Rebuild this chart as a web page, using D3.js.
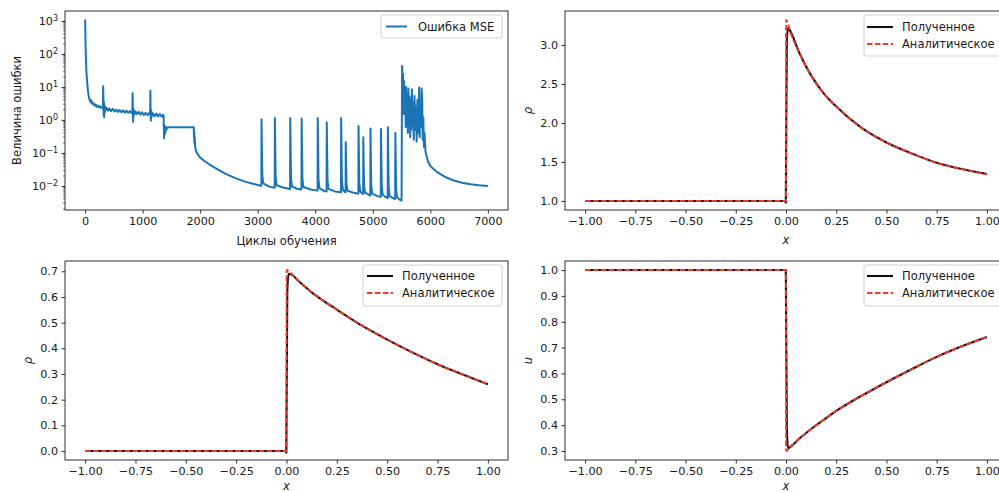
<!DOCTYPE html>
<html>
<head>
<meta charset="utf-8">
<script src="https://cdn.jsdelivr.net/npm/d3@7"></script>
<style>
  body { margin: 0; background: #fff; overflow: hidden; }
  svg { display: block; font-family: "DejaVu Sans", sans-serif; }
</style>
</head>
<body>
<svg id="chart" width="999" height="492"></svg>
<script>
// Кривая ошибки MSE (циклы обучения / величина ошибки)
const mseCycles = [
  0, 3, 6, 10, 15, 22, 30, 40, 50, 60, 75, 90, 100, 110, 125, 140, 155, 170, 185, 200, 220, 240, 260, 280, 300,
  308, 314, 318, 322, 326, 330, 336, 342, 350, 360, 375,
  400, 420, 450, 480, 510, 540, 570, 600, 630, 660, 690, 720, 750, 780, 810,
  820, 826, 830, 834, 838, 844, 852, 862, 875,
  900, 930, 960, 990, 1020, 1050, 1080, 1110, 1125,
  1130, 1134, 1138, 1142, 1146, 1152, 1160, 1170, 1185,
  1210, 1240, 1270, 1300, 1330, 1355, 1364,
  1368, 1372, 1376, 1380, 1386, 1392, 1400, 1410, 1425, 1450, 1700, 1888,
  1892, 1896, 1900, 1905, 1912, 1920, 1935, 1960, 2000, 2075, 2150, 2250, 2425, 2600, 2775, 2900, 3040,
  3063, 3066, 3072, 3080, 3096, 3200, 3295,
  3298, 3304, 3312, 3328, 3450, 3562,
  3565, 3571, 3579, 3595, 3680, 3760,
  3763, 3769, 3777, 3793, 3920, 4040,
  4043, 4049, 4057, 4073, 4150, 4197,
  4200, 4206, 4214, 4230, 4340, 4447,
  4450, 4456, 4464, 4480, 4510, 4527,
  4530, 4536, 4544, 4560, 4650, 4749,
  4752, 4758, 4766, 4782, 4810, 4832,
  4835, 4841, 4849, 4865, 4920, 4957,
  4960, 4966, 4974, 4990, 5070, 5139,
  5142, 5148, 5156, 5172, 5220, 5259,
  5262, 5268, 5276, 5292, 5350, 5389,
  5392, 5398, 5406, 5422, 5470, 5500,
  5509, 5518, 5527, 5536, 5545, 5554, 5563, 5572, 5581, 5590, 5600, 5610, 5620, 5630, 5640, 5650,
  5660, 5670, 5680, 5690, 5700, 5712, 5725, 5738, 5750, 5762, 5775, 5790, 5805, 5815, 5825, 5835,
  5848, 5858, 5868, 5878, 5890, 5900, 5915, 5935, 5960, 6000, 6060, 6120, 6250, 6410, 6550, 6700, 6850, 7000
];
const mseValues = [
  1100, 600, 250, 120, 60, 30, 18, 11, 7.5, 5.5, 4.2, 3.6, 4.0, 3.2, 3.5, 2.9, 3.1, 2.7, 2.9, 2.5, 2.7, 2.4, 2.6, 2.3, 2.4,
  2.2, 10.5, 4.0, 1.4, 3.5, 1.2, 2.8, 1.7, 2.5, 2.0, 2.3,
  1.9, 2.2, 1.85, 2.15, 1.8, 2.05, 1.75, 2.0, 1.7, 1.95, 1.65, 1.9, 1.63, 1.85, 1.6,
  1.75, 6.4, 2.0, 0.87, 2.2, 1.3, 1.9, 1.5, 1.8,
  1.5, 1.75, 1.45, 1.7, 1.4, 1.65, 1.4, 1.6, 1.45,
  1.6, 7.6, 2.0, 0.95, 2.0, 1.2, 1.7, 1.35, 1.55,
  1.3, 1.55, 1.27, 1.5, 1.25, 1.45, 1.3,
  0.6, 0.28, 0.7, 0.35, 0.65, 0.4, 0.62, 0.5, 0.58, 0.6, 0.6, 0.6,
  0.3, 0.45, 0.2, 0.3, 0.15, 0.13, 0.105, 0.09, 0.072, 0.057, 0.046, 0.036, 0.024, 0.0175, 0.0135, 0.0118, 0.0103,
  0.0101, 1.05, 0.16, 0.02, 0.012, 0.0095, 0.0088,
  1.15, 0.17, 0.018, 0.0105, 0.0088, 0.0081,
  1.15, 0.17, 0.017, 0.0097, 0.0082, 0.0078,
  1.1, 0.16, 0.016, 0.0093, 0.0078, 0.0072,
  1.15, 0.17, 0.015, 0.0086, 0.0071, 0.0068,
  0.83, 0.12, 0.014, 0.0081, 0.0068, 0.0064,
  1.15, 0.17, 0.014, 0.0077, 0.0066, 0.0064,
  0.21, 0.04, 0.011, 0.0072, 0.0063, 0.0058,
  0.65, 0.1, 0.012, 0.0068, 0.006, 0.0057,
  0.3, 0.05, 0.01, 0.0064, 0.0055, 0.0051,
  0.55, 0.08, 0.01, 0.0058, 0.005, 0.0046,
  0.53, 0.08, 0.0095, 0.0054, 0.0046, 0.0043,
  0.6, 0.09, 0.009, 0.0049, 0.0043, 0.004,
  0.4, 0.06, 0.008, 0.0045, 0.0038, 0.0036,
  43, 5, 25, 1.5, 15, 2.0, 8, 0.6, 10, 0.9, 6, 0.4, 9, 1.2, 5, 0.3,
  4, 0.5, 8.5, 0.7, 3.5, 0.25, 5.3, 0.5, 2.5, 0.22, 4, 0.4, 9.6, 0.3, 3, 0.6,
  9, 4.2, 0.25, 1.2, 0.15, 0.4, 0.11, 0.08, 0.055, 0.04, 0.032, 0.026, 0.019, 0.0145, 0.0125, 0.0113, 0.0105, 0.0099
];

// Аналитическое решение
const xsAnalytic = [-1, -0.5, 0, 0.0005, 0.025, 0.0625, 0.125, 0.1875, 0.25, 0.375, 0.5, 0.625, 0.75, 0.875, 1.0];
const rhoAnalytic = [1, 1, 1, 3.32, 3.14, 2.92, 2.61, 2.38, 2.21, 1.94, 1.75, 1.61, 1.49, 1.41, 1.34];
const pAnalytic = [0, 0, 0, 0.705, 0.69, 0.66, 0.618, 0.583, 0.551, 0.488, 0.434, 0.384, 0.338, 0.298, 0.26];
const uAnalytic = [1, 1, 1, 0.30, 0.318, 0.345, 0.385, 0.42, 0.455, 0.513, 0.566, 0.616, 0.664, 0.705, 0.741];

// Полученное решение (сеть)
const xsNet = [-1, -0.5, -0.006, -0.001, 0.004, 0.01, 0.025, 0.0625, 0.125, 0.1875, 0.25, 0.375, 0.5, 0.625, 0.75, 0.875, 1.0];
const rhoNet = [1, 1, 1, 0.98, 3.05, 3.22, 3.16, 2.92, 2.61, 2.38, 2.21, 1.94, 1.75, 1.61, 1.49, 1.41, 1.345];
const pNet = [0, 0, 0, -0.006, 0.62, 0.69, 0.687, 0.66, 0.618, 0.583, 0.551, 0.488, 0.434, 0.384, 0.338, 0.298, 0.26];
const uNet = [1, 1, 1, 1.0, 0.4, 0.31, 0.318, 0.345, 0.385, 0.42, 0.455, 0.513, 0.566, 0.616, 0.664, 0.705, 0.741];

// Подписи тиков
const cycleTicks = [0, 1000, 2000, 3000, 4000, 5000, 6000, 7000];
const errorTicks = [1e-2, 1e-1, 1, 10, 100, 1000];
const xTicks = [-1, -0.75, -0.5, -0.25, 0, 0.25, 0.5, 0.75, 1];
const rhoTicks = [1.0, 1.5, 2.0, 2.5, 3.0];
const pTicks = [0, 0.1, 0.2, 0.3, 0.4, 0.5, 0.6, 0.7];
const uTicks = [0.3, 0.4, 0.5, 0.6, 0.7, 0.8, 0.9, 1.0];
const legendNames = ["Полученное", "Аналитическое"];

const svg = d3.select("#chart");
const textColor = "#1a1a1a";
const blue = "#1a74b6";
const red = "#f23a2c";
const black = "#111";

// Рамка + оси одной панели
function drawAxes(box, x, y, xt, yt, xFmt, yFmt) {
  const g = svg.append("g").attr("transform", `translate(${box.left},${box.top})`);

  const ax = g.append("g")
      .attr("transform", `translate(0,${box.height})`)
      .call(d3.axisBottom(x).tickValues(xt).tickFormat(xFmt).tickSize(3.5).tickPadding(3.5).tickSizeOuter(0));
  const ay = g.append("g")
      .call(d3.axisLeft(y).tickValues(yt).tickFormat(yFmt).tickSize(3.5).tickPadding(3.5).tickSizeOuter(0));

  [ax, ay].forEach(a => {
    a.select(".domain").remove();
    a.selectAll("line").attr("stroke", textColor).attr("stroke-width", 0.9);
    a.selectAll("text").attr("fill", textColor).style("font-size", "11.2px")
        .style("font-family", "DejaVu Sans, sans-serif");
  });

  g.append("rect")
      .attr("width", box.width)
      .attr("height", box.height)
      .attr("fill", "none")
      .attr("stroke", textColor)
      .attr("stroke-width", 0.9);

  return { g, ax, ay };
}

function legend(box, items) {
  const g = svg.append("g");
  g.append("rect")
      .attr("x", box.x).attr("y", box.y)
      .attr("width", box.w).attr("height", box.h)
      .attr("rx", 2.5)
      .attr("fill", "rgba(255,255,255,0.8)")
      .attr("stroke", "#cccccc")
      .attr("stroke-width", 0.9);
  items.forEach((it, i) => {
    const yy = box.y + box.first + i * box.step;
    g.append("line")
        .attr("x1", box.x + box.l1).attr("x2", box.x + box.l2)
        .attr("y1", yy).attr("y2", yy)
        .attr("stroke", it.color)
        .attr("stroke-width", it.width)
        .attr("stroke-dasharray", it.dash || null);
    g.append("text")
        .attr("x", box.x + box.tx).attr("y", yy + 4)
        .attr("fill", textColor)
        .style("font-size", "11.5px")
        .text(it.label);
  });
}

const fmt2 = d3.format(".2f");
const fmt1 = d3.format(".1f");

// ---------- Панель 1: ошибка MSE ----------
const box1 = { left: 65, top: 11, width: 443, height: 199 };
const x1 = d3.scaleLinear().domain([-350, 7350]).range([0, box1.width]);
const y1 = d3.scaleLog().domain([Math.pow(10, -2.73), Math.pow(10, 3.3)]).range([box1.height, 0]);

const p1 = drawAxes(box1, x1, y1, cycleTicks, errorTicks, d3.format("d"), () => "");

// 10^n подписи
p1.ay.selectAll(".tick text").each(function(d) {
  const t = d3.select(this).text("10");
  const e = Math.round(Math.log10(d));
  t.append("tspan")
      .attr("dy", "-0.55em")
      .style("font-size", "8px")
      .text(e < 0 ? "\u2212" + (-e) : String(e));
});

// малые тики лог-шкалы
const minor = y1.ticks().filter(v => {
  const l = Math.log10(v);
  return Math.abs(l - Math.round(l)) > 1e-6;
});
p1.g.append("g").selectAll("line")
  .data(minor)
  .join("line")
    .attr("x1", -2).attr("x2", 0)
    .attr("y1", d => y1(d)).attr("y2", d => y1(d))
    .attr("stroke", textColor)
    .attr("stroke-width", 0.6);

const mseLine = d3.line()
    .x((d, i) => x1(mseCycles[i]))
    .y(d => y1(d));

p1.g.append("path")
    .datum(mseValues)
    .attr("fill", "none")
    .attr("stroke", blue)
    .attr("stroke-width", 2)
    .attr("stroke-linejoin", "round")
    .attr("d", mseLine);

svg.append("text")
    .attr("x", box1.left + box1.width / 2).attr("y", 245)
    .attr("text-anchor", "middle")
    .attr("fill", textColor)
    .style("font-size", "11.5px")
    .text("Циклы обучения");

svg.append("text")
    .attr("transform", `translate(21,${box1.top + box1.height / 2}) rotate(-90)`)
    .attr("text-anchor", "middle")
    .attr("fill", textColor)
    .style("font-size", "11.5px")
    .text("Величина ошибки");

legend({ x: 381, y: 15, w: 121, h: 23, first: 11.5, step: 17, l1: 5, l2: 26, tx: 37 },
  [{ label: "Ошибка MSE", color: blue, width: 2 }]);

// ---------- Панели решения ----------
function solutionPanel(box, yDomain, yt, netVals, anaVals, yLabel, labelX, xLabelY, legendBox) {
  const x = d3.scaleLinear().domain([-1.1, 1.1]).range([0, box.width]);
  const y = d3.scaleLinear().domain(yDomain).range([box.height, 0]);
  const p = drawAxes(box, x, y, xTicks, yt, fmt2, fmt1);

  const line = (xs) => d3.line()
      .x((d, i) => x(xs[i]))
      .y(d => y(d))
      .curve(d3.curveMonotoneX);

  p.g.append("path")
      .datum(netVals)
      .attr("fill", "none")
      .attr("stroke", black)
      .attr("stroke-width", 2.1)
      .attr("d", line(xsNet));

  p.g.append("path")
      .datum(anaVals)
      .attr("fill", "none")
      .attr("stroke", red)
      .attr("stroke-width", 1.9)
      .attr("stroke-dasharray", "5.5,2.4")
      .attr("d", line(xsAnalytic));

  svg.append("text")
      .attr("x", box.left + x(0)).attr("y", xLabelY)
      .attr("text-anchor", "middle")
      .attr("fill", textColor)
      .style("font-size", "11.5px")
      .style("font-style", "italic")
      .text("x");

  svg.append("text")
      .attr("transform", `translate(${labelX},${box.top + box.height / 2}) rotate(-90)`)
      .attr("text-anchor", "middle")
      .attr("fill", textColor)
      .style("font-size", "11.5px")
      .style("font-style", "italic")
      .text(yLabel);

  legend(legendBox, [
    { label: legendNames[0], color: black, width: 2.1 },
    { label: legendNames[1], color: red, width: 1.9, dash: "5.5,2.4" }
  ]);
}

solutionPanel({ left: 565, top: 11, width: 442, height: 199 }, [0.884, 3.436], rhoTicks, rhoNet, rhoAnalytic, "ρ", 532, 244,
  { x: 864, y: 15, w: 140, h: 41, first: 12, step: 17, l1: 3, l2: 29, tx: 38 });

solutionPanel({ left: 65, top: 261, width: 443, height: 199 }, [-0.035, 0.74], pTicks, pNet, pAnalytic, "ρ", 32, 490,
  { x: 363, y: 265, w: 139, h: 41, first: 11, step: 17, l1: 4, l2: 30, tx: 39 });

solutionPanel({ left: 565, top: 261, width: 442, height: 199 }, [0.265, 1.035], uTicks, uNet, uAnalytic, "u", 532, 490,
  { x: 864, y: 265, w: 140, h: 41, first: 11, step: 17, l1: 3, l2: 29, tx: 38 });
</script>
</body>
</html>
